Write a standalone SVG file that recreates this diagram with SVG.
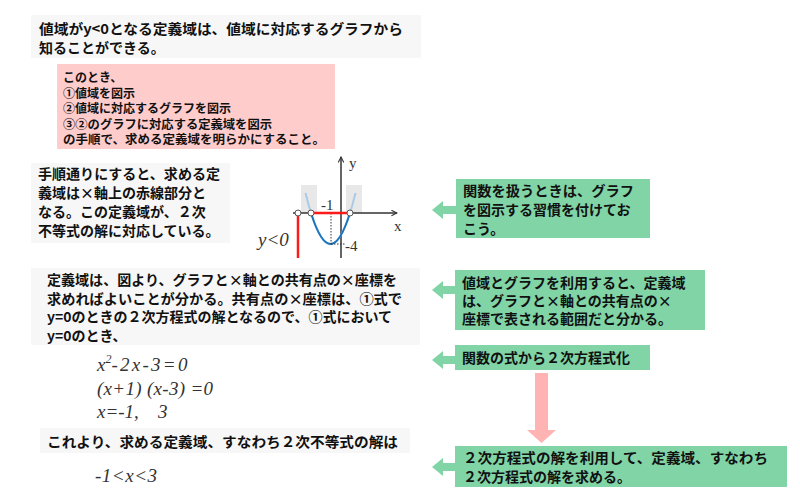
<svg xmlns="http://www.w3.org/2000/svg" width="800" height="500" viewBox="0 0 800 500">
<style>
.jp{font-family:"Noto Sans CJK JP","Noto Sans CJK SC",sans-serif;font-weight:bold;fill:#111;}
.t14{font-size:14px;}
.t12{font-size:12px;}
.gray{fill:#f7f7f7;}
.green{fill:#80d4a6;}
.math{font-family:"Liberation Serif",serif;font-style:italic;font-size:19px;fill:#333;}
.lab{font-family:"Liberation Serif",serif;font-size:15px;fill:#333;}
.ax{stroke:#333;stroke-width:1.5;fill:none;}
.pt{fill:#fff;stroke:#555;stroke-width:1;}
</style>
<defs>
<marker id="ah" viewBox="0 0 10 10" refX="9" refY="5" markerWidth="7" markerHeight="7" orient="auto" markerUnits="userSpaceOnUse">
<path d="M1,1 L9,5 L1,9" fill="none" stroke="#333" stroke-width="1.5"/>
</marker>
<clipPath id="below"><rect x="280" y="213" width="120" height="60"/></clipPath>
</defs>
<rect width="800" height="500" fill="#fff"/>

<g id="intro">
<rect class="gray" x="31" y="15" width="390" height="43"/>
<text class="jp t14" x="39" y="34" textLength="364" lengthAdjust="spacingAndGlyphs">値域がy&lt;0となる定義域は、値域に対応するグラフから</text>
<text class="jp t14" x="39" y="53">知ることができる。</text>
</g>

<g id="steps">
<rect fill="#ffcccc" x="57" y="64" width="278" height="85"/>
<text class="jp t12" x="63" y="82">このとき、</text>
<text class="jp t12" x="63" y="97.5">①値域を図示</text>
<text class="jp t12" x="63" y="113">②値域に対応するグラフを図示</text>
<text class="jp t12" x="63" y="128.5" textLength="209" lengthAdjust="spacingAndGlyphs">③②のグラフに対応する定義域を図示</text>
<text class="jp t12" x="63" y="144" textLength="262" lengthAdjust="spacingAndGlyphs">の手順で、求める定義域を明らかにすること。</text>
</g>

<g id="procedure">
<rect class="gray" x="31" y="163" width="199" height="80"/>
<text class="jp t14" x="38" y="179" textLength="182" lengthAdjust="spacingAndGlyphs">手順通りにすると、求める定</text>
<text class="jp t14" x="38" y="198">義域は×軸上の赤線部分と</text>
<text class="jp t14" x="38" y="217">なる。この定義域が、２次</text>
<text class="jp t14" x="38" y="236">不等式の解に対応している。</text>
</g>

<g id="graph">
<rect x="301" y="185" width="16" height="28" fill="#e8e8e8"/>
<rect x="346" y="185" width="16" height="28" fill="#e8e8e8"/>
<line class="ax" x1="293" y1="213" x2="397" y2="213" marker-end="url(#ah)"/>
<line class="ax" x1="341" y1="258" x2="341" y2="157" marker-end="url(#ah)"/>
<text class="lab" x="349" y="168">y</text>
<text class="lab" x="394" y="231">x</text>
<path d="M305.5,193 Q330.5,295 355.5,193" fill="none" stroke="#a9cbe9" stroke-width="2"/>
<path d="M305.5,193 Q330.5,295 355.5,193" fill="none" stroke="#1a75c0" stroke-width="2" clip-path="url(#below)"/>
<line x1="331" y1="213" x2="331" y2="244" stroke="#333" stroke-width="1" stroke-dasharray="1.5,1.5"/>
<line x1="331" y1="244" x2="346" y2="244" stroke="#333" stroke-width="1" stroke-dasharray="1.5,1.5"/>
<line x1="311" y1="213" x2="350" y2="213" stroke="#ff1a1a" stroke-width="2.5"/>
<line x1="298" y1="213" x2="298" y2="258" stroke="#ff1a1a" stroke-width="2.5"/>
<circle class="pt" cx="298" cy="213" r="3"/>
<circle class="pt" cx="311" cy="213" r="3"/>
<circle class="pt" cx="350" cy="213" r="3"/>
<text class="lab" x="321" y="210" font-size="12">-1</text>
<text class="lab" x="345" y="251" font-size="12">-4</text>
<text class="math" x="258" y="246" font-size="18" fill="#555">y&lt;0</text>
</g>

<g id="explain">
<rect class="gray" x="31" y="268" width="389" height="77"/>
<text class="jp t14" x="47" y="285" textLength="350" lengthAdjust="spacingAndGlyphs">定義域は、図より、グラフと×軸との共有点の×座標を</text>
<text class="jp t14" x="47" y="303.5" textLength="355" lengthAdjust="spacingAndGlyphs">求めればよいことが分かる。共有点の×座標は、①式で</text>
<text class="jp t14" x="47" y="322" textLength="345" lengthAdjust="spacingAndGlyphs">y=0のときの２次方程式の解となるので、①式において</text>
<text class="jp t14" x="47" y="340.5">y=0のとき、</text>
</g>

<g id="equations">
<text class="math" x="97" y="371">x<tspan font-size="12" dy="-8">2</tspan><tspan dy="8" textLength="76" lengthAdjust="spacing">-2x-3=0</tspan></text>
<text class="math" x="97" y="395" textLength="116" lengthAdjust="spacing">(x+1) (x-3) =0</text>
<text class="math" x="97" y="418">x=-1,<tspan x="158">3</tspan></text>
</g>

<g id="conclusion">
<rect class="gray" x="40" y="428" width="370" height="25"/>
<text class="jp t14" x="47" y="447" textLength="351" lengthAdjust="spacingAndGlyphs">これより、求める定義域、すなわち２次不等式の解は</text>
</g>

<g id="answer">
<text class="math" x="95" y="482" textLength="62" lengthAdjust="spacing">-1&lt;x&lt;3</text>
</g>

<g id="note1">
<polygon class="green" points="432,210 443,201 443,206 456,206 456,214 443,214 443,219"/>
<rect class="green" x="456" y="179" width="194" height="59"/>
<text class="jp t14" x="463" y="196" textLength="171" lengthAdjust="spacingAndGlyphs">関数を扱うときは、グラフ</text>
<text class="jp t14" x="463" y="215">を図示する習慣を付けてお</text>
<text class="jp t14" x="463" y="234">こう。</text>
</g>

<g id="note2">
<polygon class="green" points="432,290 443,281 443,286 456,286 456,294 443,294 443,299"/>
<rect class="green" x="455" y="270" width="250" height="60"/>
<text class="jp t14" x="462" y="288">値域とグラフを利用すると、定義域</text>
<text class="jp t14" x="462" y="306">は、グラフと×軸との共有点の×</text>
<text class="jp t14" x="462" y="324">座標で表される範囲だと分かる。</text>
</g>

<g id="note3">
<polygon class="green" points="432,360 443,351 443,356 456,356 456,364 443,364 443,369"/>
<rect class="green" x="455" y="345" width="195" height="25"/>
<text class="jp t14" x="462" y="363">関数の式から２次方程式化</text>
</g>

<g id="note4">
<polygon class="green" points="432,467 443,458 443,463 456,463 456,471 443,471 443,476"/>
<rect class="green" x="455" y="446" width="332" height="41"/>
<text class="jp t14" x="463" y="463" textLength="305" lengthAdjust="spacingAndGlyphs">２次方程式の解を利用して、定義域、すなわち</text>
<text class="jp t14" x="463" y="482">２次方程式の解を求める。</text>
</g>

<g id="connectors">
<polygon fill="#ffb3b3" points="535,373 548,373 548,430 556,430 541.5,443 527,430 535,430"/>
</g>
</svg>
